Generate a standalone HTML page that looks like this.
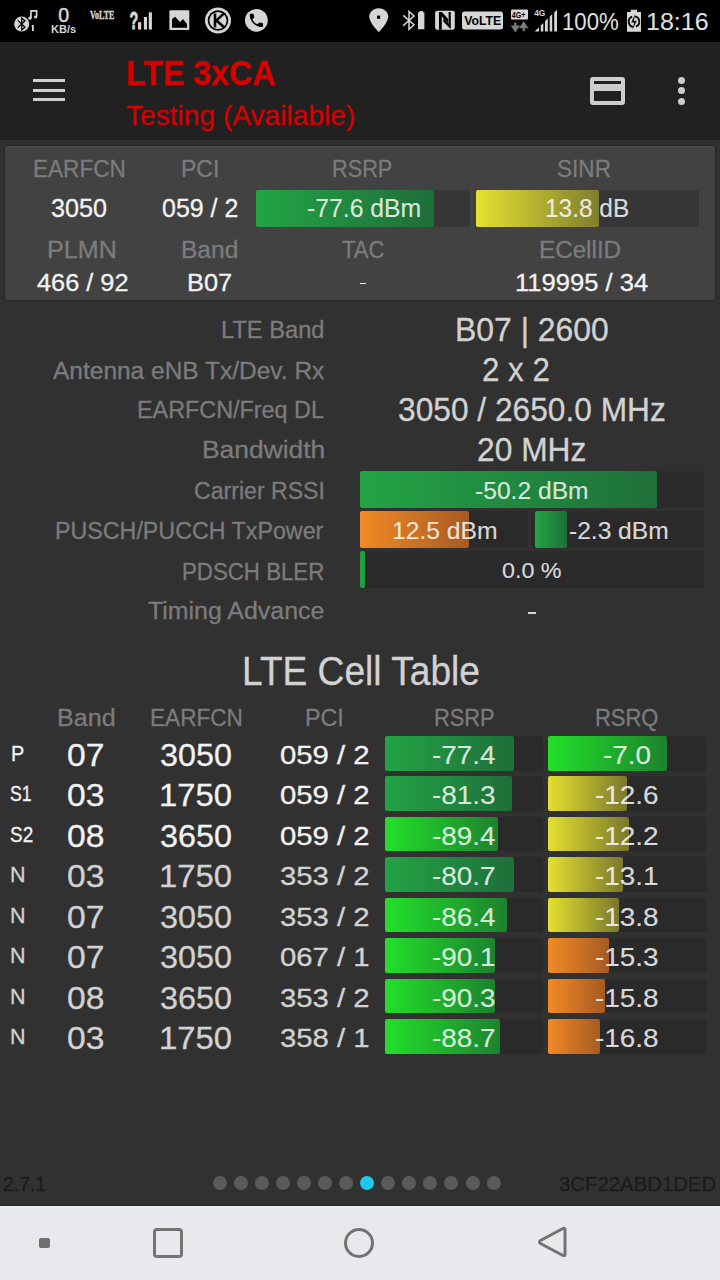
<!DOCTYPE html>
<html><head><meta charset="utf-8"><style>
html,body{margin:0;padding:0}
body{width:720px;height:1280px;position:relative;overflow:hidden;background:#313131;font-family:"Liberation Sans",sans-serif}
.abs,.bar,.t,.dot{position:absolute}
.t{line-height:1;white-space:pre;transform-origin:0 0;-webkit-text-stroke:0.3px currentColor}
.dot{width:14px;height:14px;border-radius:50%}
.dotm{width:7px;height:7px;border-radius:50%;background:#cdcdcd}
</style></head><body>
<div class="abs" style="left:0;top:0;width:720px;height:42px;background:#000"></div>
<svg class="abs" style="left:0;top:0" width="720" height="42" viewBox="0 0 720 42">
 <g fill="#d6d6d6">
  <circle cx="21.7" cy="24" r="7.5"/>
  <path d="M31 18 V10.8 H36.6 V16.8" stroke="#d6d6d6" stroke-width="1.7" fill="none"/>
  <circle cx="29.9" cy="18.2" r="1.6"/><circle cx="35.6" cy="17" r="1.6"/>
  <rect x="32" y="25" width="1.8" height="6.1"/><path d="M31 26.2 L32.2 25 L32.6 26.5z"/>
  <text x="0" y="0" font-size="20" font-family="Liberation Sans" transform="translate(58.3 22.2) scale(0.98 1.0)" stroke="#d6d6d6" stroke-width="0.5">0</text>
  <text x="0" y="0" font-size="10.2" font-weight="700" font-family="Liberation Sans" transform="translate(51 33.3) scale(1.08 1)">KB/s</text>
  <text x="0" y="0" font-size="11.5" font-weight="700" font-family="Liberation Serif" transform="translate(90 19) scale(0.70 1.02)" stroke="#d6d6d6" stroke-width="0.4">VoLTE</text>
  <text x="0" y="0" font-size="23" font-weight="700" font-family="Liberation Sans" transform="translate(129.5 28.6) scale(0.62 1.0)" stroke="#d6d6d6" stroke-width="0.9">?</text>
  <rect x="138" y="22.2" width="3.2" height="7.3"/><rect x="143.9" y="17" width="3.1" height="12.5"/><rect x="148.8" y="12.3" width="3.1" height="17.2"/>
  <rect x="169.4" y="10.3" width="19.9" height="19.7" rx="1"/>
  <circle cx="218" cy="20.5" r="13"/>
  <circle cx="256.4" cy="20.3" r="11.4"/>
  <path transform="translate(362.4 5.8) scale(1.36 1.2)" d="M12 2C8.13 2 5 5.13 5 9c0 5.25 7 13 7 13s7-7.75 7-13c0-3.87-3.13-7-7-7z"/>
  <path d="M418 12.2 h1.5 v-1.2 h3.4 v1.2 h1.5 v17 h-6.4z"/>
  <rect x="435.1" y="10.8" width="19.7" height="19" rx="2.2"/>
  <rect x="462" y="11.6" width="41" height="17.9" rx="2.5"/>
  <rect x="511" y="9.4" width="17" height="10.2" rx="1"/>
  <path d="M627 11.9 h3.8 v-2.1 h6.2 v2.1 h4 v19.8 h-14z"/>
 </g>
 <path d="M17.8 20.4 L25 27.2 L21.8 29.8 V18.2 L25 20.8 L17.8 27.6" stroke="#000" stroke-width="1.3" fill="none"/>
 <g fill="#000">
  <path d="M172 19.1 L175.2 16.7 L180 22 L183 19.1 L187 24 V27.8 H172 Z"/>
  <circle cx="218" cy="20.5" r="10.3"/>
  <rect x="377" y="15.6" width="3.2" height="3.2"/>
  <path d="M439 12 H441.8 L448.2 19 V23 L441.8 16.6 V29.7 H439 Z"/><path d="M448.6 12 H450.8 V28.6 H450 L443.3 21.6 V18 L448.6 23.6 Z"/>
  <text x="0" y="0" font-size="13.6" font-weight="700" font-family="Liberation Sans" transform="translate(464.3 25.4) scale(0.90 1)">VoLTE</text>
  <text x="0" y="0" font-size="9.5" font-weight="700" font-family="Liberation Sans" transform="translate(511.8 18.2) scale(0.75 1)">4G+</text>
 </g>
 <circle cx="218" cy="20.5" r="8.6" fill="#d6d6d6"/>
 <path d="M215 13.6 V27.6 M224 13.4 L216.5 20.4 L224 27.2" stroke="#000" stroke-width="2.6" fill="none"/>
 <path transform="translate(247.5 11.5) scale(0.74)" fill="#000" d="M6.62 10.79c1.440 2.830 3.760 5.140 6.59 6.590l2.2-2.2c.27-.27.670-.36 1.020-.24 1.120.37 2.330.57 3.570.57.550 0 1 .450 1 1V20c0 .55-.45 1-1 1-9.390 0-17-7.610-17-17 0-.55.45-1 1-1h3.5c.55 0 1 .45 1 1 0 1.25.2 2.45.57 3.57.11.35.03.74-.25 1.02l-2.2 2.2z"/>
 <path d="M403.2 15.4 L414 24.8 L409 29.3 V11.5 L414 16 L403.2 25.6" stroke="#d6d6d6" stroke-width="1.5" fill="none" stroke-linejoin="miter"/>
 <path d="M515.3 22.5 v6.5 M512.6 26.5 l2.7 4 l2.7 -4 z M523.7 31.2 v-6.5 M521 27.2 l2.7 -4 l2.7 4z" stroke="#7a7a7a" stroke-width="2.2" fill="#7a7a7a"/>
 <text x="0" y="0" font-size="9.3" font-weight="700" font-family="Liberation Sans" fill="#d6d6d6" transform="translate(534.2 16.4) scale(0.9 1)">4G</text>
 <g fill="#d6d6d6">
  <path d="M534.7 31.6 L538.9 27.3 V31.6z"/>
  <path d="M540.8 31.6 V25.4 L543.3 22.9 V31.6z"/>
  <path d="M545 31.6 V21.2 L547.8 18.3 V31.6z"/>
  <path d="M549.7 31.6 V16.7 L552.2 14.1 V31.6z"/>
  <path d="M554.2 31.6 V12.4 L557 9.7 V31.6z"/>
 </g>
 <path d="M633.08 26.92 A5.3 5.3 0 0 1 632.19 16.72 M634.92 16.48 A5.3 5.3 0 0 1 635.81 26.68" stroke="#000" stroke-width="1.8" fill="none"/>
 <path d="M635.2 13.8 L631.2 22.8 L634.2 22.2 L632.4 30 L636.8 20.6 L633.8 21.2 Z" fill="#000"/>
</svg>


<div class="abs" style="left:0;top:42px;width:720px;height:98px;background:#212121"></div>
<div class="abs" style="left:33px;top:79px;width:32px;height:3px;background:#d0d0d0"></div>
<div class="abs" style="left:33px;top:88.5px;width:32px;height:3px;background:#d0d0d0"></div>
<div class="abs" style="left:33px;top:98px;width:32px;height:3px;background:#d0d0d0"></div>
<div class="abs" style="left:590px;top:77px;width:35px;height:28px;box-sizing:border-box;border:4px solid #cdcdcd;border-radius:3px"></div>
<div class="abs" style="left:590px;top:84px;width:35px;height:7px;background:#cdcdcd"></div>
<div class="abs dotm" style="left:677.5px;top:76.8px"></div>
<div class="abs dotm" style="left:677.5px;top:87.1px"></div>
<div class="abs dotm" style="left:677.5px;top:97.8px"></div>


<div class="abs" style="left:5px;top:146px;width:710px;height:154px;background:#424242;border-radius:3px;box-shadow:0 0 0 1.5px #292929, inset 0 1px 0 #4a4a4a"></div>

<div class="bar" style="left:256px;top:190px;width:214px;height:37px;background:#363636;border-radius:2px"></div><div class="bar" style="left:256px;top:190px;width:178px;height:37px;background:linear-gradient(90deg,#23a445,#1e6e3a);border-radius:2px"></div><div class="bar" style="left:476px;top:190px;width:223px;height:37px;background:#363636;border-radius:2px"></div><div class="bar" style="left:476px;top:190px;width:123px;height:37px;background:linear-gradient(90deg,#e6e232,#807e2e);border-radius:2px"></div><div class="bar" style="left:360px;top:471px;width:344px;height:37px;background:#2a2a2a;border-radius:2px"></div><div class="bar" style="left:360px;top:471px;width:297px;height:37px;background:linear-gradient(90deg,#23a445,#1f6f3a);border-radius:2px"></div><div class="bar" style="left:360px;top:511px;width:168px;height:37px;background:#2a2a2a;border-radius:2px"></div><div class="bar" style="left:360px;top:511px;width:109px;height:37px;background:linear-gradient(90deg,#f28a26,#a65a22);border-radius:2px"></div><div class="bar" style="left:531px;top:511px;width:173px;height:37px;background:#2a2a2a;border-radius:2px"></div><div class="bar" style="left:535px;top:511px;width:32px;height:37px;background:linear-gradient(90deg,#23a445,#1f6f3a);border-radius:2px"></div><div class="bar" style="left:360px;top:551px;width:344px;height:37px;background:#2a2a2a;border-radius:2px"></div><div class="bar" style="left:360px;top:551px;width:4.600000000000023px;height:37px;background:#22a040;border-radius:2px"></div><div class="bar" style="left:385px;top:736.0px;width:158px;height:34.5px;background:#2a2a2a;border-radius:2px"></div><div class="bar" style="left:385px;top:736.0px;width:129px;height:34.5px;background:linear-gradient(90deg,#23a445,#1e6e3a);border-radius:2px"></div><div class="bar" style="left:548px;top:736.0px;width:158px;height:34.5px;background:#2a2a2a;border-radius:2px"></div><div class="bar" style="left:548px;top:736.0px;width:119px;height:34.5px;background:linear-gradient(90deg,#22e02a,#1d822f);border-radius:2px"></div><div class="bar" style="left:385px;top:776.45px;width:158px;height:34.5px;background:#2a2a2a;border-radius:2px"></div><div class="bar" style="left:385px;top:776.45px;width:127px;height:34.5px;background:linear-gradient(90deg,#23a445,#1e6e3a);border-radius:2px"></div><div class="bar" style="left:548px;top:776.45px;width:158px;height:34.5px;background:#2a2a2a;border-radius:2px"></div><div class="bar" style="left:548px;top:776.45px;width:79px;height:34.5px;background:linear-gradient(90deg,#e4e030,#7a782c);border-radius:2px"></div><div class="bar" style="left:385px;top:816.9px;width:158px;height:34.5px;background:#2a2a2a;border-radius:2px"></div><div class="bar" style="left:385px;top:816.9px;width:112.5px;height:34.5px;background:linear-gradient(90deg,#22e02a,#1d822f);border-radius:2px"></div><div class="bar" style="left:548px;top:816.9px;width:158px;height:34.5px;background:#2a2a2a;border-radius:2px"></div><div class="bar" style="left:548px;top:816.9px;width:81px;height:34.5px;background:linear-gradient(90deg,#e4e030,#7a782c);border-radius:2px"></div><div class="bar" style="left:385px;top:857.35px;width:158px;height:34.5px;background:#2a2a2a;border-radius:2px"></div><div class="bar" style="left:385px;top:857.35px;width:128.5px;height:34.5px;background:linear-gradient(90deg,#23a445,#1e6e3a);border-radius:2px"></div><div class="bar" style="left:548px;top:857.35px;width:158px;height:34.5px;background:#2a2a2a;border-radius:2px"></div><div class="bar" style="left:548px;top:857.35px;width:74.5px;height:34.5px;background:linear-gradient(90deg,#e4e030,#7a782c);border-radius:2px"></div><div class="bar" style="left:385px;top:897.8px;width:158px;height:34.5px;background:#2a2a2a;border-radius:2px"></div><div class="bar" style="left:385px;top:897.8px;width:121.5px;height:34.5px;background:linear-gradient(90deg,#22e02a,#1d822f);border-radius:2px"></div><div class="bar" style="left:548px;top:897.8px;width:158px;height:34.5px;background:#2a2a2a;border-radius:2px"></div><div class="bar" style="left:548px;top:897.8px;width:70.5px;height:34.5px;background:linear-gradient(90deg,#e4e030,#7a782c);border-radius:2px"></div><div class="bar" style="left:385px;top:938.25px;width:158px;height:34.5px;background:#2a2a2a;border-radius:2px"></div><div class="bar" style="left:385px;top:938.25px;width:110px;height:34.5px;background:linear-gradient(90deg,#22e02a,#1d822f);border-radius:2px"></div><div class="bar" style="left:548px;top:938.25px;width:158px;height:34.5px;background:#2a2a2a;border-radius:2px"></div><div class="bar" style="left:548px;top:938.25px;width:60.5px;height:34.5px;background:linear-gradient(90deg,#f28a26,#a65a22);border-radius:2px"></div><div class="bar" style="left:385px;top:978.7px;width:158px;height:34.5px;background:#2a2a2a;border-radius:2px"></div><div class="bar" style="left:385px;top:978.7px;width:110px;height:34.5px;background:linear-gradient(90deg,#22e02a,#1d822f);border-radius:2px"></div><div class="bar" style="left:548px;top:978.7px;width:158px;height:34.5px;background:#2a2a2a;border-radius:2px"></div><div class="bar" style="left:548px;top:978.7px;width:57px;height:34.5px;background:linear-gradient(90deg,#f28a26,#a65a22);border-radius:2px"></div><div class="bar" style="left:385px;top:1019.15px;width:158px;height:34.500000000000114px;background:#2a2a2a;border-radius:2px"></div><div class="bar" style="left:385px;top:1019.15px;width:115px;height:34.500000000000114px;background:linear-gradient(90deg,#22e02a,#1d822f);border-radius:2px"></div><div class="bar" style="left:548px;top:1019.15px;width:158px;height:34.500000000000114px;background:#2a2a2a;border-radius:2px"></div><div class="bar" style="left:548px;top:1019.15px;width:52px;height:34.500000000000114px;background:linear-gradient(90deg,#f28a26,#a65a22);border-radius:2px"></div><div class="dot" style="left:212.90px;top:1175.7px;background:#5a5a5a"></div><div class="dot" style="left:233.95px;top:1175.7px;background:#5a5a5a"></div><div class="dot" style="left:255.00px;top:1175.7px;background:#5a5a5a"></div><div class="dot" style="left:276.05px;top:1175.7px;background:#5a5a5a"></div><div class="dot" style="left:297.10px;top:1175.7px;background:#5a5a5a"></div><div class="dot" style="left:318.15px;top:1175.7px;background:#5a5a5a"></div><div class="dot" style="left:339.20px;top:1175.7px;background:#5a5a5a"></div><div class="dot" style="left:360.25px;top:1175.7px;background:#1ec8f0"></div><div class="dot" style="left:381.30px;top:1175.7px;background:#5a5a5a"></div><div class="dot" style="left:402.35px;top:1175.7px;background:#5a5a5a"></div><div class="dot" style="left:423.40px;top:1175.7px;background:#5a5a5a"></div><div class="dot" style="left:444.45px;top:1175.7px;background:#5a5a5a"></div><div class="dot" style="left:465.50px;top:1175.7px;background:#5a5a5a"></div><div class="dot" style="left:486.55px;top:1175.7px;background:#5a5a5a"></div>
<div class="abs" style="left:359.8px;top:282.6px;width:6.6px;height:1.8px;background:#f0f0f0"></div><div class="abs" style="left:527.8px;top:611.8px;width:8.4px;height:2.4px;background:#d6d6d6"></div>

<div class="abs" style="left:0;top:1205px;width:720px;height:1px;background:#222322"></div><div class="abs" style="left:0;top:1206px;width:720px;height:74px;background:#e8e9ec"></div><div class="abs" style="left:0;top:1206px;width:720px;height:1px;background:#f3f4f6"></div>
<div class="abs" style="left:39px;top:1237.5px;width:10.5px;height:10.5px;background:#707070;border-radius:2px"></div>
<div class="abs" style="left:153px;top:1228px;width:30px;height:30px;box-sizing:border-box;border:3px solid #737373;border-radius:4px"></div>
<div class="abs" style="left:344px;top:1228px;width:30px;height:30px;box-sizing:border-box;border:3px solid #737373;border-radius:50%"></div>
<svg class="abs" style="left:530px;top:1220px" width="45" height="45"><path d="M33 8.5 Q35 7.5 35 10 V34 Q35 36.5 33 35.5 L10.5 23.5 Q8.5 22 10.5 20.5 Z" fill="none" stroke="#737373" stroke-width="3" stroke-linejoin="round"/></svg>

<div class="t" style="left:125.65px;top:56.00px;font-size:34.78px;font-weight:700;color:#d50000;transform:scaleX(0.9245);">LTE 3xCA</div>
<div class="t" style="left:126.00px;top:101.00px;font-size:28.26px;color:#d50000;transform:scaleX(0.9956);">Testing (Available)</div>
<div class="t" style="left:33.15px;top:156.80px;font-size:24.35px;color:#7c7c7c;transform:scaleX(0.9271);">EARFCN</div>
<div class="t" style="left:181.11px;top:156.80px;font-size:24.35px;color:#7c7c7c;transform:scaleX(0.9444);">PCI</div>
<div class="t" style="left:332.22px;top:156.80px;font-size:24.35px;color:#7c7c7c;transform:scaleX(0.8923);">RSRP</div>
<div class="t" style="left:557.07px;top:156.80px;font-size:24.35px;color:#7c7c7c;transform:scaleX(0.9286);">SINR</div>
<div class="t" style="left:51.02px;top:195.70px;font-size:25.65px;color:#f2f2f2;transform:scaleX(0.9818);">3050</div>
<div class="t" style="left:162.03px;top:195.70px;font-size:25.65px;color:#f2f2f2;transform:scaleX(0.9737);">059 / 2</div>
<div class="t" style="left:307.03px;top:195.70px;font-size:25.65px;color:rgba(255,255,255,0.82);transform:scaleX(0.9655);-webkit-text-stroke:0.15px currentColor;">-77.6 dBm</div>
<div class="t" style="left:545.09px;top:195.70px;font-size:25.65px;color:rgba(255,255,255,0.82);transform:scaleX(0.9529);-webkit-text-stroke:0.15px currentColor;">13.8 dB</div>
<div class="t" style="left:46.87px;top:239.00px;font-size:23.62px;color:#7c7c7c;transform:scaleX(1.0645);">PLMN</div>
<div class="t" style="left:180.92px;top:239.00px;font-size:23.62px;color:#7c7c7c;transform:scaleX(1.0385);">Band</div>
<div class="t" style="left:342.07px;top:239.00px;font-size:23.62px;color:#7c7c7c;transform:scaleX(0.9302);">TAC</div>
<div class="t" style="left:538.95px;top:239.00px;font-size:23.62px;color:#7c7c7c;transform:scaleX(1.0260);">ECellID</div>
<div class="t" style="left:36.95px;top:270.70px;font-size:24.2px;color:#f2f2f2;transform:scaleX(1.0471);">466 / 92</div>
<div class="t" style="left:186.90px;top:270.70px;font-size:24.2px;color:#f2f2f2;transform:scaleX(1.0500);">B07</div>
<div class="t" style="left:514.89px;top:270.70px;font-size:24.2px;color:#f2f2f2;transform:scaleX(1.0569);">119995 / 34</div>
<div class="t" style="left:221.08px;top:318.00px;font-size:24.64px;color:#7c7c7c;transform:scaleX(0.9615);">LTE Band</div>
<div class="t" style="left:52.50px;top:358.50px;font-size:24.64px;color:#7c7c7c;transform:scaleX(0.9945);">Antenna eNB Tx/Dev. Rx</div>
<div class="t" style="left:137.10px;top:398.30px;font-size:24.64px;color:#7c7c7c;transform:scaleX(0.9485);">EARFCN/Freq DL</div>
<div class="t" style="left:201.86px;top:438.30px;font-size:24.64px;color:#7c7c7c;transform:scaleX(1.0721);">Bandwidth</div>
<div class="t" style="left:194.46px;top:479.00px;font-size:24.64px;color:#7c7c7c;transform:scaleX(0.9382);">Carrier RSSI</div>
<div class="t" style="left:54.81px;top:519.00px;font-size:24.64px;color:#7c7c7c;transform:scaleX(0.9443);">PUSCH/PUCCH TxPower</div>
<div class="t" style="left:181.94px;top:559.50px;font-size:24.64px;color:#7c7c7c;transform:scaleX(0.9042);">PDSCH BLER</div>
<div class="t" style="left:147.99px;top:599.30px;font-size:24.64px;color:#7c7c7c;transform:scaleX(1.0116);">Timing Advance</div>
<div class="t" style="left:455.05px;top:314.40px;font-size:32.46px;color:#d2d2d2;transform:scaleX(0.9836);">B07 | 2600</div>
<div class="t" style="left:482.47px;top:354.40px;font-size:32.46px;color:#d2d2d2;transform:scaleX(0.9642);">2 x 2</div>
<div class="t" style="left:397.72px;top:394.40px;font-size:32.46px;color:#d2d2d2;transform:scaleX(0.9768);">3050 / 2650.0 MHz</div>
<div class="t" style="left:476.74px;top:434.40px;font-size:32.46px;color:#d2d2d2;transform:scaleX(0.9787);">20 MHz</div>
<div class="t" style="left:474.77px;top:479.00px;font-size:23.91px;color:rgba(255,255,255,0.82);transform:scaleX(1.0296);-webkit-text-stroke:0.15px currentColor;">-50.2 dBm</div>
<div class="t" style="left:391.72px;top:518.75px;font-size:24.28px;color:rgba(255,255,255,0.82);transform:scaleX(1.0165);-webkit-text-stroke:0.15px currentColor;">12.5 dBm</div>
<div class="t" style="left:569.39px;top:518.75px;font-size:24.28px;color:rgba(255,255,255,0.82);transform:scaleX(1.0115);-webkit-text-stroke:0.15px currentColor;">-2.3 dBm</div>
<div class="t" style="left:501.98px;top:559.30px;font-size:22.9px;color:rgba(255,255,255,0.82);transform:scaleX(1.0175);-webkit-text-stroke:0.15px currentColor;">0.0 %</div>
<div class="t" style="left:241.63px;top:652.00px;font-size:40.14px;color:#d2d2d2;transform:scaleX(0.9249);">LTE Cell Table</div>
<div class="t" style="left:56.96px;top:706.00px;font-size:24.64px;color:#7c7c7c;transform:scaleX(1.0185);">Band</div>
<div class="t" style="left:150.16px;top:706.00px;font-size:24.64px;color:#7c7c7c;transform:scaleX(0.9175);">EARFCN</div>
<div class="t" style="left:305.11px;top:706.00px;font-size:24.64px;color:#7c7c7c;transform:scaleX(0.9459);">PCI</div>
<div class="t" style="left:434.23px;top:706.00px;font-size:24.64px;color:#7c7c7c;transform:scaleX(0.8846);">RSRP</div>
<div class="t" style="left:595.22px;top:706.00px;font-size:24.64px;color:#7c7c7c;transform:scaleX(0.8897);">RSRQ</div>
<div class="t" style="left:10.77px;top:743.00px;font-size:21.16px;color:#f2f2f2;transform:scaleX(0.9409);">P</div>
<div class="t" style="left:67.32px;top:740.00px;font-size:31.16px;color:#f2f2f2;transform:scaleX(1.0812);">07</div>
<div class="t" style="left:160.46px;top:740.00px;font-size:31.16px;color:#f2f2f2;transform:scaleX(1.0373);">3050</div>
<div class="t" style="left:279.64px;top:743.00px;font-size:25.36px;color:#f2f2f2;transform:scaleX(1.1560);">059 / 2</div>
<div class="t" style="left:432.10px;top:743.00px;font-size:25.36px;color:rgba(255,255,255,0.82);transform:scaleX(1.1000);-webkit-text-stroke:0.15px currentColor;">-77.4</div>
<div class="t" style="left:602.80px;top:743.00px;font-size:25.36px;color:rgba(255,255,255,0.82);transform:scaleX(1.1000);-webkit-text-stroke:0.15px currentColor;">-7.0</div>
<div class="t" style="left:9.96px;top:783.45px;font-size:21.16px;color:#f2f2f2;transform:scaleX(0.8375);">S1</div>
<div class="t" style="left:67.32px;top:780.45px;font-size:31.16px;color:#f2f2f2;transform:scaleX(1.0812);">03</div>
<div class="t" style="left:159.39px;top:780.45px;font-size:31.16px;color:#f2f2f2;transform:scaleX(1.0530);">1750</div>
<div class="t" style="left:279.64px;top:783.45px;font-size:25.36px;color:#f2f2f2;transform:scaleX(1.1560);">059 / 2</div>
<div class="t" style="left:432.10px;top:783.45px;font-size:25.36px;color:rgba(255,255,255,0.82);transform:scaleX(1.1000);-webkit-text-stroke:0.15px currentColor;">-81.3</div>
<div class="t" style="left:595.10px;top:783.45px;font-size:25.36px;color:rgba(255,255,255,0.82);transform:scaleX(1.1000);-webkit-text-stroke:0.15px currentColor;">-12.6</div>
<div class="t" style="left:9.90px;top:823.90px;font-size:21.16px;color:#f2f2f2;transform:scaleX(0.8958);">S2</div>
<div class="t" style="left:67.32px;top:820.90px;font-size:31.16px;color:#f2f2f2;transform:scaleX(1.0812);">08</div>
<div class="t" style="left:160.46px;top:820.90px;font-size:31.16px;color:#f2f2f2;transform:scaleX(1.0373);">3650</div>
<div class="t" style="left:279.64px;top:823.90px;font-size:25.36px;color:#f2f2f2;transform:scaleX(1.1560);">059 / 2</div>
<div class="t" style="left:432.10px;top:823.90px;font-size:25.36px;color:rgba(255,255,255,0.82);transform:scaleX(1.1000);-webkit-text-stroke:0.15px currentColor;">-89.4</div>
<div class="t" style="left:595.10px;top:823.90px;font-size:25.36px;color:rgba(255,255,255,0.82);transform:scaleX(1.1000);-webkit-text-stroke:0.15px currentColor;">-12.2</div>
<div class="t" style="left:10.47px;top:864.35px;font-size:21.16px;color:#d2d2d2;transform:scaleX(1.0167);">N</div>
<div class="t" style="left:67.32px;top:861.35px;font-size:31.16px;color:#d2d2d2;transform:scaleX(1.0812);">03</div>
<div class="t" style="left:159.39px;top:861.35px;font-size:31.16px;color:#d2d2d2;transform:scaleX(1.0530);">1750</div>
<div class="t" style="left:279.64px;top:864.35px;font-size:25.36px;color:#d2d2d2;transform:scaleX(1.1560);">353 / 2</div>
<div class="t" style="left:432.10px;top:864.35px;font-size:25.36px;color:rgba(255,255,255,0.82);transform:scaleX(1.1000);-webkit-text-stroke:0.15px currentColor;">-80.7</div>
<div class="t" style="left:595.10px;top:864.35px;font-size:25.36px;color:rgba(255,255,255,0.82);transform:scaleX(1.1000);-webkit-text-stroke:0.15px currentColor;">-13.1</div>
<div class="t" style="left:10.47px;top:904.80px;font-size:21.16px;color:#d2d2d2;transform:scaleX(1.0167);">N</div>
<div class="t" style="left:67.32px;top:901.80px;font-size:31.16px;color:#d2d2d2;transform:scaleX(1.0812);">07</div>
<div class="t" style="left:160.46px;top:901.80px;font-size:31.16px;color:#d2d2d2;transform:scaleX(1.0373);">3050</div>
<div class="t" style="left:279.64px;top:904.80px;font-size:25.36px;color:#d2d2d2;transform:scaleX(1.1560);">353 / 2</div>
<div class="t" style="left:432.10px;top:904.80px;font-size:25.36px;color:rgba(255,255,255,0.82);transform:scaleX(1.1000);-webkit-text-stroke:0.15px currentColor;">-86.4</div>
<div class="t" style="left:595.10px;top:904.80px;font-size:25.36px;color:rgba(255,255,255,0.82);transform:scaleX(1.1000);-webkit-text-stroke:0.15px currentColor;">-13.8</div>
<div class="t" style="left:10.47px;top:945.25px;font-size:21.16px;color:#d2d2d2;transform:scaleX(1.0167);">N</div>
<div class="t" style="left:67.32px;top:942.25px;font-size:31.16px;color:#d2d2d2;transform:scaleX(1.0812);">07</div>
<div class="t" style="left:160.46px;top:942.25px;font-size:31.16px;color:#d2d2d2;transform:scaleX(1.0373);">3050</div>
<div class="t" style="left:279.64px;top:945.25px;font-size:25.36px;color:#d2d2d2;transform:scaleX(1.1560);">067 / 1</div>
<div class="t" style="left:432.10px;top:945.25px;font-size:25.36px;color:rgba(255,255,255,0.82);transform:scaleX(1.1000);-webkit-text-stroke:0.15px currentColor;">-90.1</div>
<div class="t" style="left:595.10px;top:945.25px;font-size:25.36px;color:rgba(255,255,255,0.82);transform:scaleX(1.1000);-webkit-text-stroke:0.15px currentColor;">-15.3</div>
<div class="t" style="left:10.47px;top:985.70px;font-size:21.16px;color:#d2d2d2;transform:scaleX(1.0167);">N</div>
<div class="t" style="left:67.32px;top:982.70px;font-size:31.16px;color:#d2d2d2;transform:scaleX(1.0812);">08</div>
<div class="t" style="left:160.46px;top:982.70px;font-size:31.16px;color:#d2d2d2;transform:scaleX(1.0373);">3650</div>
<div class="t" style="left:279.64px;top:985.70px;font-size:25.36px;color:#d2d2d2;transform:scaleX(1.1560);">353 / 2</div>
<div class="t" style="left:432.10px;top:985.70px;font-size:25.36px;color:rgba(255,255,255,0.82);transform:scaleX(1.1000);-webkit-text-stroke:0.15px currentColor;">-90.3</div>
<div class="t" style="left:595.10px;top:985.70px;font-size:25.36px;color:rgba(255,255,255,0.82);transform:scaleX(1.1000);-webkit-text-stroke:0.15px currentColor;">-15.8</div>
<div class="t" style="left:10.47px;top:1026.15px;font-size:21.16px;color:#d2d2d2;transform:scaleX(1.0167);">N</div>
<div class="t" style="left:67.32px;top:1023.15px;font-size:31.16px;color:#d2d2d2;transform:scaleX(1.0812);">03</div>
<div class="t" style="left:159.39px;top:1023.15px;font-size:31.16px;color:#d2d2d2;transform:scaleX(1.0530);">1750</div>
<div class="t" style="left:279.64px;top:1026.15px;font-size:25.36px;color:#d2d2d2;transform:scaleX(1.1560);">358 / 1</div>
<div class="t" style="left:432.10px;top:1026.15px;font-size:25.36px;color:rgba(255,255,255,0.82);transform:scaleX(1.1000);-webkit-text-stroke:0.15px currentColor;">-88.7</div>
<div class="t" style="left:595.10px;top:1026.15px;font-size:25.36px;color:rgba(255,255,255,0.82);transform:scaleX(1.1000);-webkit-text-stroke:0.15px currentColor;">-16.8</div>
<div class="t" style="left:3.05px;top:1174.00px;font-size:20.29px;color:#1c1c1c;transform:scaleX(0.9535);">2.7.1</div>
<div class="t" style="left:558.96px;top:1175.00px;font-size:19.57px;color:#1c1c1c;transform:scaleX(1.0403);">3CF22ABD1DED</div>
<div class="t" style="left:562.20px;top:10.00px;font-size:24.64px;color:#e0e0e0;transform:scaleX(0.9000);-webkit-text-stroke:0;">100%</div>
<div class="t" style="left:645.97px;top:10.00px;font-size:24.64px;color:#e0e0e0;transform:scaleX(1.0169);-webkit-text-stroke:0;">18:16</div>
</body></html>
